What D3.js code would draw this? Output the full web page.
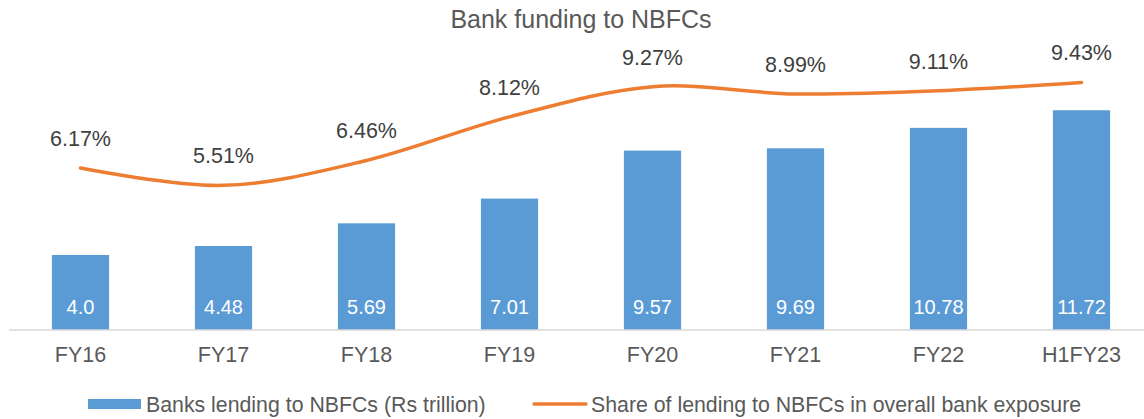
<!DOCTYPE html>
<html>
<head>
<meta charset="utf-8">
<script src="https://cdn.jsdelivr.net/npm/d3@7"></script>
<style>
  body { margin: 0; background: #fff; }
  svg { display: block; font-family: "Liberation Sans", Arial, sans-serif; }
</style>
</head>
<body>
<svg width="1144" height="419"></svg>
<script>
var categories = ["FY16", "FY17", "FY18", "FY19", "FY20", "FY21", "FY22", "H1FY23"];
var lending = [4.0, 4.48, 5.69, 7.01, 9.57, 9.69, 10.78, 11.72];
var lendingLabels = ["4.0", "4.48", "5.69", "7.01", "9.57", "9.69", "10.78", "11.72"];
var share = [6.17, 5.51, 6.46, 8.12, 9.27, 8.99, 9.11, 9.43];

var svg = d3.select("svg");
var baseline = 330;

var x = d3.scaleBand()
    .domain(categories)
    .range([9, 1153])
    .paddingInner(0.6)
    .paddingOuter(0.3);
var y = d3.scaleLinear().domain([0, 16]).range([baseline, 30]);
var y2 = d3.scaleLinear().domain([0, 12]).range([baseline, 15]);

// title
svg.append("text")
    .attr("x", 581)
    .attr("y", 28)
    .attr("text-anchor", "middle")
    .style("font-size", "25px")
    .style("fill", "#595959")
    .text("Bank funding to NBFCs");

// bars
svg.selectAll(".bar")
    .data(categories)
    .enter().append("rect")
    .attr("class", "bar")
    .attr("x", function(d) { return x(d); })
    .attr("y", function(d, i) { return y(lending[i]); })
    .attr("width", x.bandwidth())
    .attr("height", function(d, i) { return baseline - y(lending[i]); })
    .style("fill", "#5b9bd5");

// x axis
var xAxis = svg.append("g")
    .attr("transform", "translate(0," + baseline + ")")
    .call(d3.axisBottom(x).tickSize(0).tickPadding(17));
xAxis.select(".domain")
    .attr("d", "M9,0H1144")
    .style("stroke", "#d9d9d9")
    .style("stroke-width", 1.5);
xAxis.selectAll("text")
    .style("font-size", "21.5px")
    .style("fill", "#595959")
    .style("font-family", "Liberation Sans, Arial, sans-serif");

// bar value labels
svg.selectAll(".bar-label")
    .data(categories)
    .enter().append("text")
    .attr("class", "bar-label")
    .attr("x", function(d) { return x(d) + x.bandwidth() / 2; })
    .attr("y", baseline - 16)
    .attr("text-anchor", "middle")
    .style("font-size", "20px")
    .style("fill", "#ffffff")
    .text(function(d, i) { return lendingLabels[i]; });

// share line
var line = d3.line()
    .curve(d3.curveCardinal.tension(0))
    .x(function(d, i) { return x(categories[i]) + x.bandwidth() / 2; })
    .y(function(d) { return y2(d); });

svg.append("path")
    .datum(share)
    .attr("d", line)
    .style("fill", "none")
    .style("stroke", "#ed7d31")
    .style("stroke-width", 3.5)
    .style("stroke-linecap", "round");

svg.selectAll(".share-label")
    .data(share)
    .enter().append("text")
    .attr("class", "share-label")
    .attr("x", function(d, i) { return x(categories[i]) + x.bandwidth() / 2; })
    .attr("y", function(d) { return y2(d) - 22; })
    .attr("text-anchor", "middle")
    .style("font-size", "21.5px")
    .style("fill", "#404040")
    .text(function(d) { return d.toFixed(2) + "%"; });

// legend
var legend = svg.append("g");
legend.append("rect")
    .attr("x", 88).attr("y", 399)
    .attr("width", 53).attr("height", 10)
    .style("fill", "#5b9bd5");
legend.append("text")
    .attr("x", 146).attr("y", 412)
    .style("font-size", "21.3px")
    .style("fill", "#595959")
    .text("Banks lending to NBFCs (Rs trillion)");
legend.append("line")
    .attr("x1", 534).attr("x2", 586)
    .attr("y1", 404).attr("y2", 404)
    .style("stroke", "#ed7d31")
    .style("stroke-width", 3.5)
    .style("stroke-linecap", "round");
legend.append("text")
    .attr("x", 591).attr("y", 412)
    .style("font-size", "21.3px")
    .style("fill", "#595959")
    .text("Share of lending to NBFCs in overall bank exposure");
</script>
</body>
</html>
